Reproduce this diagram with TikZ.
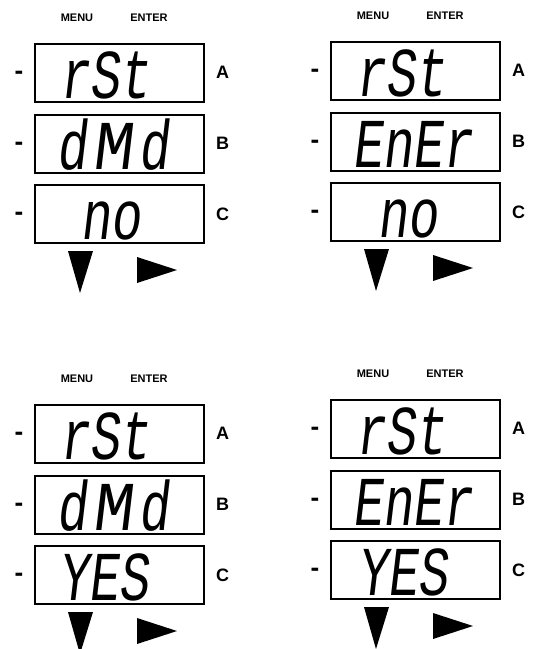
\documentclass[tikz,border=0pt]{standalone}
\usepackage{fontspec}
\setmainfont{Liberation Sans}
\newfontfamily\segfont[FakeStretch=0.72,FakeSlant=0.12]{Liberation Mono}
% the M of the demand display spans two digit cells
\newcommand{\dmdtext}{d\kern6pt{\addfontfeature{FakeStretch=0.95}M}\kern6pt d}

\begin{document}
\begin{tikzpicture}[x=1pt, y=-1pt,
    lcdbox/.style={draw, line width=1.6pt, minimum width=169pt, minimum height=58pt,
      inner sep=0pt, anchor=north west},
    lcdtext/.style={font=\segfont\fontsize{70}{70}\selectfont, anchor=base west, inner sep=0pt},
    keylabel/.style={font=\bfseries\fontsize{11}{11}\selectfont},
    rowlabel/.style={font=\bfseries\fontsize{18}{18}\selectfont, inner sep=0pt},
    rowdash/.style={font=\bfseries\fontsize{26}{26}\selectfont, inner sep=0pt, yshift=-3pt}]
  \useasboundingbox (0,0) rectangle (533,649);

  %% ---------- four display panels: reset demand, no / yes ----------
  \foreach \px/\py/\tb/\tc/\cx/\pname in {34/43/\dmdtext/no/46/p1, 330/41/EnEr/no/47/p2,
      34/404/\dmdtext/YES/24/p3, 330/399/EnEr/YES/27/p4}{
    \begin{scope}[shift={(\px,\py)}]
      \node[keylabel] (\pname-menu)  at (43,-25)  {MENU};
      \node[keylabel] (\pname-enter) at (115,-25) {ENTER};
      \node[lcdbox] (\pname-a) at (0,0)   {};
      \node[lcdbox] (\pname-b) at (0,71)  {};
      \node[lcdbox] (\pname-c) at (0,141) {};
      \node[lcdtext] (\pname-ta) at (25,55)   {rSt};
      \node[lcdtext] (\pname-tb) at (22,126)  {\tb};
      \node[lcdtext] (\pname-tc) at (\cx,196) {\tc};
      \foreach \r/\l in {a/A, b/B, c/C}{
        \node[rowdash]  (\pname-d\r) at ([xshift=-15pt]\pname-\r.west) {-};
        \node[rowlabel] (\pname-l\r) at ([xshift=18pt]\pname-\r.east) {\l};
      }
      % menu and enter keys
      \fill (34,208) -- (59,208) -- (46,250) -- cycle;
      \fill (103,214) -- (103,240) -- (143,227) -- cycle;
    \end{scope}
  }
\end{tikzpicture}
\end{document}
